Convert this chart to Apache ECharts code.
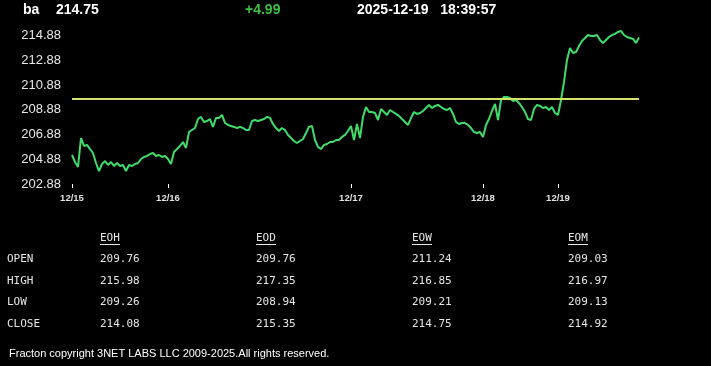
<!DOCTYPE html>
<html>
<head>
<meta charset="utf-8">
<script src="https://cdn.jsdelivr.net/npm/echarts@6/dist/echarts.min.js"></script>
<style>
html,body{margin:0;padding:0;background:#000;}
#c{width:711px;height:366px;}
</style>
</head>
<body>
<div id="c"></div>
<script>
// ---- data ----
const symbol = 'ba';
const lastPrice = '214.75';
const change = '+4.99';
const stamp = '2025-12-19   18:39:57';
const prevClose = 209.76;
const yTicks = [202.88, 204.88, 206.88, 208.88, 210.88, 212.88, 214.88];
const dayLabels = ['12/15', '12/16', '12/17', '12/18', '12/19'];
const dayStartIdx = [0, 32, 93, 137, 162];
const prices = [
205.23, 204.66, 204.26, 206.60, 205.96, 206.04, 205.71, 205.39, 204.58, 203.93,
204.50, 204.74, 204.42, 204.66, 204.34, 204.58, 204.34, 204.42, 203.93, 204.42,
204.34, 204.50, 204.58, 204.90, 205.07, 205.15, 205.31, 205.39, 205.15, 205.23,
205.07, 205.15, 204.90, 204.50, 205.47, 205.71, 205.96, 206.28, 205.80, 207.09,
207.25, 207.41, 208.14, 208.31, 207.90, 207.98, 208.14, 207.50, 208.22, 208.22,
208.47, 207.82, 207.66, 207.58, 207.50, 207.41, 207.50, 207.41, 207.25, 207.25,
207.98, 208.06, 207.98, 208.06, 208.14, 208.31, 208.22, 207.74, 207.41, 207.17,
207.41, 207.25, 206.85, 206.60, 206.36, 206.20, 206.36, 206.52, 207.01, 207.50,
207.58, 206.44, 205.88, 205.71, 206.04, 206.12, 206.28, 206.28, 206.44, 206.44,
206.69, 206.85, 207.17, 207.58, 206.44, 207.74, 206.60, 208.31, 209.11, 208.71,
208.71, 208.63, 208.06, 208.95, 208.71, 208.47, 208.87, 208.71, 208.55, 208.39,
208.14, 207.90, 207.66, 208.22, 208.71, 208.55, 208.63, 208.79, 209.03, 209.28,
209.03, 209.20, 209.28, 209.11, 208.95, 208.87, 209.03, 208.55, 207.90, 207.74,
207.82, 207.82, 207.66, 207.41, 207.09, 207.01, 207.09, 206.69, 207.66, 208.14,
208.79, 209.36, 208.06, 209.68, 209.92, 209.92, 209.84, 209.60, 209.68, 209.44,
209.11, 208.71, 208.14, 208.06, 208.95, 209.28, 209.20, 209.03, 209.11, 208.87,
209.11, 208.63, 208.47, 209.68, 211.14, 212.92, 213.89, 213.49, 213.57, 214.05,
214.46, 214.70, 214.94, 214.86, 214.86, 214.94, 214.54, 214.30, 214.54, 214.78,
214.94, 215.03, 215.19, 215.27, 214.94, 214.78, 214.70, 214.62, 214.30, 214.75
];
const rowNames = ['OPEN', 'HIGH', 'LOW', 'CLOSE'];
const colNames = ['EOH', 'EOD', 'EOW', 'EOM'];
const eoh = ['209.76', '215.98', '209.26', '214.08'];
const eod = ['209.76', '217.35', '208.94', '215.35'];
const eow = ['211.24', '216.85', '209.21', '214.75'];
const eom = ['209.03', '216.97', '209.13', '214.92'];
const footer = 'Fracton copyright 3NET LABS LLC 2009-2025.All rights reserved.';

// ---- build ----
const categories = prices.map((_, i) => {
  const k = dayStartIdx.indexOf(i);
  return k >= 0 ? dayLabels[k] : '';
});
const isDayStart = (i) => dayStartIdx.indexOf(i) >= 0;

const cols = [eoh, eod, eow, eom];
const colX = [100, 256, 412, 568];
const rowY = [259, 281, 302, 324];
const mono = '"DejaVu Sans Mono", "Liberation Mono", monospace';
const sans = '"Liberation Sans", Arial, sans-serif';
const graphics = [];
const hdr = (x, txt, color) => graphics.push({
  type: 'text', left: x, top: 3,
  style: { text: txt, fill: color, font: 'bold 14px ' + sans }
});
hdr(23, symbol, '#ffffff');
hdr(56, lastPrice, '#ffffff');
hdr(245, change, '#3cc043');
hdr(357, stamp, '#ffffff');
colNames.forEach((n, j) => {
  graphics.push({ type: 'text', x: colX[j], y: 238,
    style: { text: n, fill: '#e6e6e6', font: '11px ' + mono, verticalAlign: 'middle' } });
  graphics.push({ type: 'line', shape: { x1: colX[j], y1: 244.5, x2: colX[j] + 20, y2: 244.5 },
    style: { stroke: '#e6e6e6', lineWidth: 1 } });
});
rowNames.forEach((r, i) => {
  graphics.push({ type: 'text', x: 7, y: rowY[i],
    style: { text: r, fill: '#e6e6e6', font: '11px ' + mono, verticalAlign: 'middle' } });
  cols.forEach((c, j) => {
    graphics.push({ type: 'text', x: colX[j], y: rowY[i],
      style: { text: c[i], fill: '#e6e6e6', font: '11px ' + mono, verticalAlign: 'middle' } });
  });
});
graphics.push({ type: 'text', x: 9, y: 354,
  style: { text: footer, fill: '#ffffff', font: '11px ' + sans, verticalAlign: 'middle' } });

const chart = echarts.init(document.getElementById('c'), null, { renderer: 'canvas' });
chart.setOption({
  backgroundColor: '#000000',
  animation: false,
  grid: { left: 72, right: 72, top: 26, bottom: 182, outerBoundsMode: 'none', containLabel: false },
  xAxis: {
    type: 'category',
    data: categories,
    boundaryGap: false,
    axisLine: { show: false },
    axisTick: { show: true, length: 4, interval: (i) => isDayStart(i), lineStyle: { color: '#ffffff', width: 1 } },
    axisLabel: { interval: (i) => isDayStart(i), color: '#e0e0e0', fontSize: 9.5, fontWeight: 'bold', fontFamily: sans, margin: 9 },
    splitLine: { show: false }
  },
  yAxis: {
    type: 'value',
    min: 202.88,
    max: 215.67,
    axisLine: { show: false },
    axisTick: { show: false },
    splitLine: { show: false },
    axisLabel: {
      customValues: yTicks,
      formatter: (v) => v.toFixed(2),
      color: '#e8e8e8', fontSize: 13, fontFamily: sans, margin: 11
    }
  },
  series: [{
    type: 'line',
    data: prices,
    showSymbol: false,
    lineStyle: { color: '#3fdc6a', width: 2 },
    z: 3,
    markLine: {
      silent: true,
      symbol: 'none',
      label: { show: false },
      lineStyle: { color: '#d6e36a', width: 2, type: 'solid' },
      data: [{ yAxis: prevClose }]
    }
  }],
  graphic: graphics
});
</script>
</body>
</html>
